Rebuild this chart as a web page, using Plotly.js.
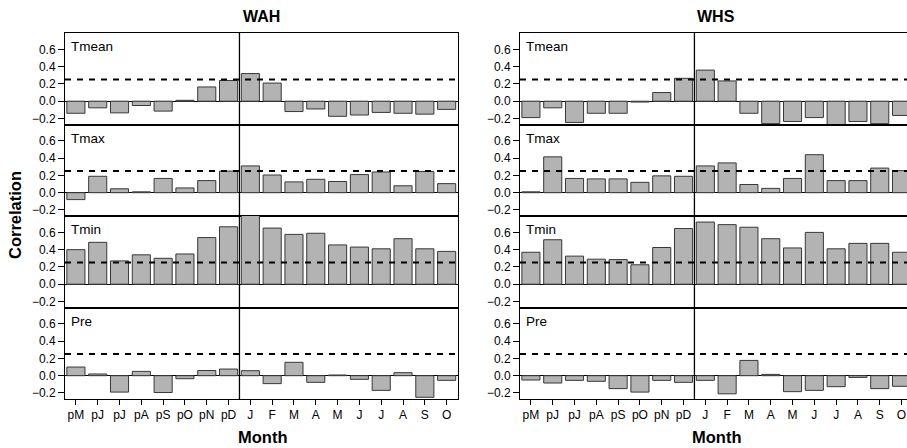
<!DOCTYPE html>
<html>
<head>
<meta charset="utf-8">
<script src="https://cdn.plot.ly/plotly-3.0.1.min.js"></script>
<style>html,body{margin:0;padding:0;background:#fff;}#chart{width:907px;height:448px;}</style>
</head>
<body>
<div id="chart"></div>
<script>
// Month labels (previous year p*, then current year)
const months = ["pM","pJ","pJ","pA","pS","pO","pN","pD","J","F","M","A","M","J","J","A","S","O"];
const variables = ["Tmean","Tmax","Tmin","Pre"];
const sites = ["WAH","WHS"];

// WAH correlations
const WAH_Tmean = [-0.14,-0.077,-0.135,-0.05,-0.115,0.01,0.165,0.24,0.32,0.21,-0.12,-0.09,-0.175,-0.16,-0.13,-0.14,-0.15,-0.095];
const WAH_Tmax  = [-0.08,0.19,0.045,0.01,0.165,0.055,0.14,0.25,0.31,0.205,0.125,0.155,0.13,0.21,0.24,0.08,0.245,0.105];
const WAH_Tmin  = [0.40,0.485,0.27,0.34,0.30,0.35,0.54,0.665,0.80,0.65,0.577,0.59,0.455,0.43,0.41,0.527,0.41,0.38];
const WAH_Pre   = [0.10,0.02,-0.19,0.05,-0.195,-0.035,0.06,0.077,0.058,-0.092,0.155,-0.077,0.008,-0.042,-0.17,0.035,-0.25,-0.054];

// WHS correlations
const WHS_Tmean = [-0.19,-0.077,-0.246,-0.14,-0.14,-0.01,0.10,0.265,0.36,0.235,-0.14,-0.26,-0.235,-0.19,-0.27,-0.235,-0.26,-0.165];
const WHS_Tmax  = [0.01,0.415,0.165,0.16,0.16,0.12,0.195,0.19,0.31,0.345,0.095,0.05,0.165,0.44,0.14,0.14,0.285,0.255];
const WHS_Tmin  = [0.37,0.515,0.325,0.29,0.285,0.225,0.425,0.645,0.72,0.69,0.66,0.527,0.42,0.60,0.41,0.473,0.473,0.37];
const WHS_Pre   = [-0.05,-0.085,-0.054,-0.065,-0.15,-0.19,-0.054,-0.077,-0.054,-0.21,0.177,0.015,-0.185,-0.17,-0.127,-0.02,-0.15,-0.123];

const THRESHOLD = 0.25;   // significance level line
const SPLIT = 7.5;        // between previous-year and current-year months
const yTicks = [-0.2,0,0.2,0.4,0.6];

const data = {
  WAH: [WAH_Tmean, WAH_Tmax, WAH_Tmin, WAH_Pre],
  WHS: [WHS_Tmean, WHS_Tmax, WHS_Tmin, WHS_Pre]
};

const FONT = "Liberation Sans, Arial, Helvetica, sans-serif";
const xIdx = months.map((m,i)=>i);
const traces = [];
const shapes = [];
const annotations = [];
const layout = {
  width: 907, height: 448,
  margin: {l: 65, r: 0, t: 33, b: 49},
  paper_bgcolor: "#fff", plot_bgcolor: "#fff",
  showlegend: false,
  bargap: 0.17,
  font: {family: FONT, size: 12, color: "#000"}
};

const xDomains = [[0, 0.4662], [0.5404, 1]];
const xRanges = [[-0.5, 17.5], [-0.5, 17.25]];
const yDomains = [[0.75,1],[0.5,0.75],[0.25,0.5],[0,0.25]];

for (let r = 0; r < 4; r++) {
  for (let c = 0; c < 2; c++) {
    const n = r*2 + c + 1;
    const xs = n === 1 ? "x" : "x" + n;
    const ys = n === 1 ? "y" : "y" + n;
    const xk = n === 1 ? "xaxis" : "xaxis" + n;
    const yk = n === 1 ? "yaxis" : "yaxis" + n;
    traces.push({
      type: "bar", x: xIdx, y: data[sites[c]][r], xaxis: xs, yaxis: ys,
      marker: {color: "#b3b3b3", line: {color: "#383838", width: 1}},
      hoverinfo: "skip"
    });
    const bottom = r === 3;
    layout[xk] = {
      domain: xDomains[c], anchor: ys, range: xRanges[c],
      showgrid: false, zeroline: false,
      showline: true, mirror: true, linecolor: "#000", linewidth: 1,
      tickmode: "array", tickvals: xIdx, ticktext: months,
      showticklabels: bottom, ticks: bottom ? "outside" : "", ticklen: 5, tickcolor: "#000",
      tickfont: {family: FONT, size: 12, color: "#000"}, fixedrange: true
    };
    layout[yk] = {
      domain: yDomains[r], anchor: xs, range: [-0.27, 0.79],
      showgrid: false, zeroline: true, zerolinecolor: "#000", zerolinewidth: 1,
      showline: true, mirror: c === 0, linecolor: "#000", linewidth: 1,
      tickmode: "array", tickvals: yTicks, tickformat: ".1f",
      ticks: "outside", ticklen: 6, tickcolor: "#000",
      tickfont: {family: FONT, size: 12, color: "#000"}, fixedrange: true
    };
    shapes.push({type: "line", xref: xs + " domain", x0: 0, x1: 1, yref: ys, y0: THRESHOLD, y1: THRESHOLD,
      line: {color: "#000", width: 2, dash: "6px,6px"}});
    shapes.push({type: "line", xref: xs, x0: SPLIT, x1: SPLIT, yref: ys + " domain", y0: 0, y1: 1,
      line: {color: "#000", width: 1.3}});
    annotations.push({text: variables[r], xref: xs + " domain", yref: ys + " domain", x: 0.01, y: 0.955,
      xanchor: "left", yanchor: "top", showarrow: false, font: {family: FONT, size: 13.5, color: "#000"}});
  }
}

// Site titles and axis titles
annotations.push({text: "<b>WAH</b>", xref: "paper", yref: "paper", x: (261.7-65)/842, y: 1 + 17/366,
  xanchor: "center", yanchor: "middle", showarrow: false, font: {family: FONT, size: 16, color: "#000"}});
annotations.push({text: "<b>WHS</b>", xref: "paper", yref: "paper", x: (715.7-65)/842, y: 1 + 17/366,
  xanchor: "center", yanchor: "middle", showarrow: false, font: {family: FONT, size: 16, color: "#000"}});
annotations.push({text: "<b>Month</b>", xref: "paper", yref: "paper", x: (262-65)/842, y: -38/366,
  xanchor: "center", yanchor: "middle", showarrow: false, font: {family: FONT, size: 16.5, color: "#000"}});
annotations.push({text: "<b>Month</b>", xref: "paper", yref: "paper", x: (716-65)/842, y: -38/366,
  xanchor: "center", yanchor: "middle", showarrow: false, font: {family: FONT, size: 16.5, color: "#000"}});
annotations.push({text: "<b>Correlation</b>", xref: "paper", yref: "paper", x: -50/842, y: (399-215)/366,
  xanchor: "center", yanchor: "middle", textangle: -90, showarrow: false, font: {family: FONT, size: 16.5, color: "#000"}});

layout.shapes = shapes;
layout.annotations = annotations;

Plotly.newPlot("chart", traces, layout, {staticPlot: true, displayModeBar: false});
</script>
</body>
</html>
